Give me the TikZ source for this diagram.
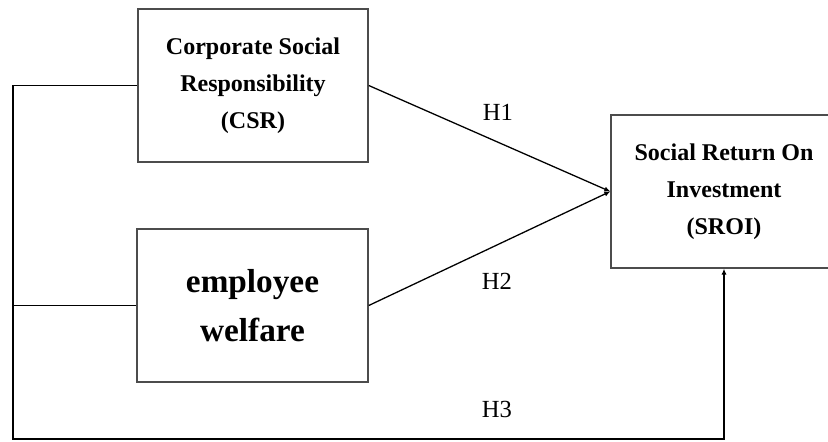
\documentclass[tikz,border=0pt]{standalone}
\usepackage{fontspec}
\setmainfont{Liberation Serif}
\usetikzlibrary{arrows.meta}

\begin{document}
\begin{tikzpicture}[x=0.03cm, y=-0.03cm]
\tikzstyle{box}=[draw=black!70, line width=1.3pt, align=center, minimum height=4.59cm, inner sep=0pt]
\tikzstyle{label}=[font=\bfseries\fontsize{20.5}{31.5}\selectfont]
\tikzstyle{link}=[line width=1.1pt, -{Latex[length=5pt,width=4.5pt]}]
\tikzstyle{hyp}=[font=\fontsize{21}{25}\selectfont]
\useasboundingbox (0,0) rectangle (828,441);
\clip (0,0) rectangle (828,441);

\node[box, label, minimum width=6.9cm] (csr) at (253,85.5) {Corporate Social\\Responsibility\\(CSR)};
\node[box, minimum width=6.93cm, font=\bfseries\fontsize{28.4}{41.8}\selectfont] (emp) at (252.5,305.5) {employee\\welfare};
\node[box, label, minimum width=6.78cm] (sroi) at (724,191.5) {Social Return On\\Investment\\(SROI)};

\node[hyp] (h1) at (498,112) {H1};
\node[hyp] (h2) at (497,281) {H2};
\node[hyp] (h3) at (497,409) {H3};

\coordinate (corner) at (13,439);

\draw[link] (csr.east) -- (sroi.west);
\draw[link] (emp.east) -- (sroi.west);
\draw[link] (csr.west) -| (corner) -| (sroi.south);
\draw[line width=1.1pt] (emp.west) -- (emp.west -| corner);

\end{tikzpicture}
\end{document}
